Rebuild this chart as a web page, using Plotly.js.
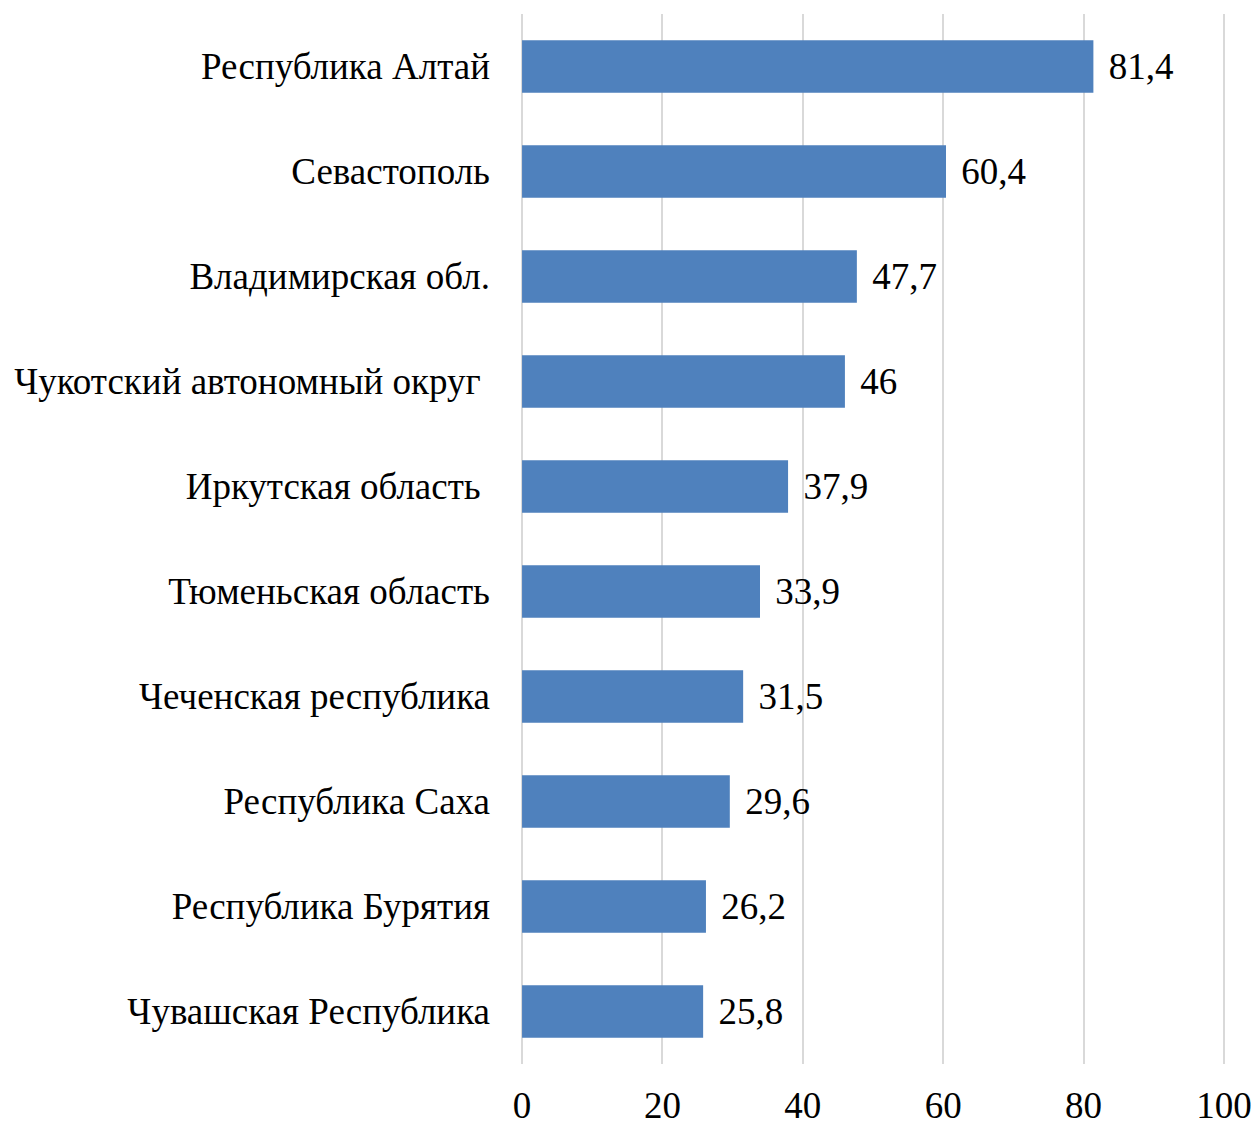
<!DOCTYPE html>
<html>
<head>
<meta charset="utf-8">
<script src="https://cdn.plot.ly/plotly-3.0.1.min.js"></script>
<style>html,body{margin:0;padding:0;background:#fff;}#chart{width:1258px;height:1122px;}</style>
</head>
<body>
<div id="chart"></div>
<script>
const regions = [
  "Республика Алтай",
  "Севастополь",
  "Владимирская обл.",
  "Чукотский автономный округ\u00a0",
  "Иркутская область\u00a0",
  "Тюменьская область",
  "Чеченская республика",
  "Республика Саха",
  "Республика Бурятия",
  "Чувашская Республика"
];
const values = [81.4, 60.4, 47.7, 46, 37.9, 33.9, 31.5, 29.6, 26.2, 25.8];
const xTicks = [0, 20, 40, 60, 80, 100];

const labels = values.map(v => '\u00a0\u200a' + String(v).replace('.', ','));

const font = {family: 'Liberation Serif', size: 37, color: '#000'};

Plotly.newPlot('chart', [{
  type: 'bar',
  orientation: 'h',
  y: regions,
  x: values,
  text: labels,
  textposition: 'outside',
  textfont: font,
  constraintext: 'none',
  cliponaxis: false,
  marker: {color: '#4F81BD'},
  hoverinfo: 'none'
}], {
  width: 1258,
  height: 1122,
  margin: {l: 521, r: 33, t: 14, b: 58},
  paper_bgcolor: '#fff',
  plot_bgcolor: '#fff',
  showlegend: false,
  bargap: 0.5,
  font: font,
  xaxis: {
    range: [-0.15, 100.15],
    tickvals: xTicks,
    ticktext: xTicks.map(String),
    showgrid: true,
    gridcolor: '#d9d9d9',
    gridwidth: 2,
    zeroline: false,
    showline: false,
    ticks: '',
    ticklabelstandoff: 16,
    tickfont: font,
    fixedrange: true
  },
  yaxis: {
    autorange: 'reversed',
    showgrid: false,
    zeroline: false,
    showline: false,
    ticks: '',
    ticklabelstandoff: 30,
    tickfont: font,
    fixedrange: true
  }
}, {displayModeBar: false, staticPlot: true});
</script>
</body>
</html>
